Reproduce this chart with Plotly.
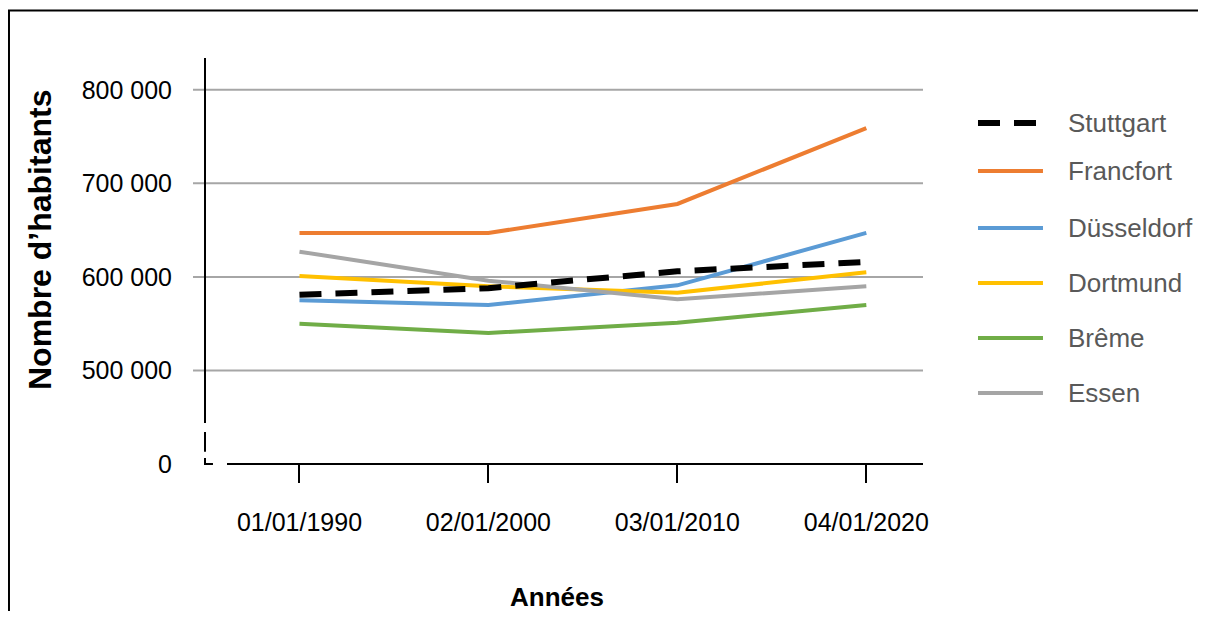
import plotly.graph_objects as go

years = ["01/01/1990", "02/01/2000", "03/01/2010", "04/01/2020"]
series_names = ["Stuttgart", "Francfort", "Düsseldorf", "Dortmund", "Brême", "Essen"]
stuttgart = [581000, 588000, 606000, 616000]
francfort = [647000, 647000, 678000, 759000]
dusseldorf = [575000, 570000, 591000, 647000]
dortmund = [601000, 590000, 583000, 605000]
breme = [550000, 540000, 551000, 570000]
essen = [627000, 596000, 576000, 590000]
series_values = [stuttgart, francfort, dusseldorf, dortmund, breme, essen]
series_colors = ["#000000", "#ED7D31", "#5B9BD5", "#FFC000", "#70AD47", "#A5A5A5"]
tick_vals = [400000, 500000, 600000, 700000, 800000]
tick_text = ["0", "500 000", "600 000", "700 000", "800 000"]
grid_vals = [500000, 600000, 700000, 800000]
x_title = "Années"
y_title = "Nombre d’habitants"

FONT = "Liberation Sans, Arial, sans-serif"

fig = go.Figure()
# draw coloured lines first, Stuttgart last (on top)
order = [1, 2, 3, 4, 5, 0]
for i in order:
    dash = "22px,14px" if i == 0 else "solid"
    width = 6 if i == 0 else 4
    fig.add_trace(go.Scatter(
        x=years, y=series_values[i], name=series_names[i], mode="lines",
        line=dict(color=series_colors[i], width=width, dash=dash),
        showlegend=False))

shapes = []
for v in grid_vals:
    shapes.append(dict(type="line", xref="paper", yref="y", x0=-0.0167, x1=1, y0=v, y1=v,
                       line=dict(color="#A6A6A6", width=2), layer="below"))
ax = dict(color="#000000", width=2)
# y axis line (broken)
shapes.append(dict(type="line", xref="paper", yref="paper", x0=0, x1=0, y0=0.101, y1=1, line=ax))
shapes.append(dict(type="line", xref="paper", yref="paper", x0=0, x1=0, y0=0.03, y1=0.079, line=ax))
shapes.append(dict(type="path", xref="paper", yref="paper",
                   path="M0,0.0148 L0,0 L0.0111,0", line=ax))
# x axis line (broken start)
shapes.append(dict(type="line", xref="paper", yref="paper", x0=0.0306, x1=0.0529, y0=0, y1=0, line=ax))
shapes.append(dict(type="line", xref="paper", yref="paper", x0=0.0529, x1=1, y0=0, y1=0, line=ax))
# outer frame
shapes.append(dict(type="line", xref="paper", yref="paper", x0=-0.2744, x1=1.45, y0=1.117, y1=1.117,
                   line=dict(color="#000000", width=2)))
shapes.append(dict(type="line", xref="paper", yref="paper", x0=-0.2730, x1=-0.2730, y0=-0.45, y1=1.117,
                   line=dict(color="#000000", width=2)))

# manual legend
legend_y_px = [123, 171, 228, 283, 338, 393]
annotations = []
for i, name in enumerate(series_names):
    yp = (464 - legend_y_px[i]) / 406
    dash = "22px,14px" if i == 0 else "solid"
    width = 6 if i == 0 else 4
    shapes.append(dict(type="line", xref="paper", yref="paper", x0=1.0766, x1=1.1671, y0=yp, y1=yp,
                       line=dict(color=series_colors[i], width=width, dash=dash)))
    annotations.append(dict(xref="paper", yref="paper", x=1.1992, y=yp, text=name, showarrow=False,
                            xanchor="left", yanchor="middle",
                            font=dict(family=FONT, size=26, color="#595959")))

# axis titles
annotations.append(dict(xref="paper", yref="paper", x=-0.2298, y=0.5517, text="<b>" + y_title + "</b>",
                        textangle=-90, showarrow=False, xanchor="center", yanchor="middle",
                        font=dict(family=FONT, size=32, color="#000000")))
annotations.append(dict(xref="paper", yref="paper", x=0.4903, y=-0.3276, text="<b>" + x_title + "</b>",
                        showarrow=False, xanchor="center", yanchor="middle",
                        font=dict(family=FONT, size=26, color="#000000")))

fig.update_layout(
    width=1190, height=603,
    margin=dict(l=197, r=275, t=50, b=147),
    paper_bgcolor="white", plot_bgcolor="white",
    shapes=shapes, annotations=annotations,
    xaxis=dict(type="category", range=[-0.5, 3.3], showgrid=False, showline=False, zeroline=False,
               ticks="outside", ticklen=18, tickwidth=2, tickcolor="#000000",
               tickfont=dict(family=FONT, size=25, color="#000000"),
               ticklabelstandoff=18),
    yaxis=dict(range=[400000, 834000], showgrid=False, showline=False, zeroline=False,
               tickvals=tick_vals, ticktext=tick_text, ticks="",
               tickfont=dict(family=FONT, size=25, color="#000000"),
               ticklabelstandoff=32),
)

fig.write_html("out.html")
